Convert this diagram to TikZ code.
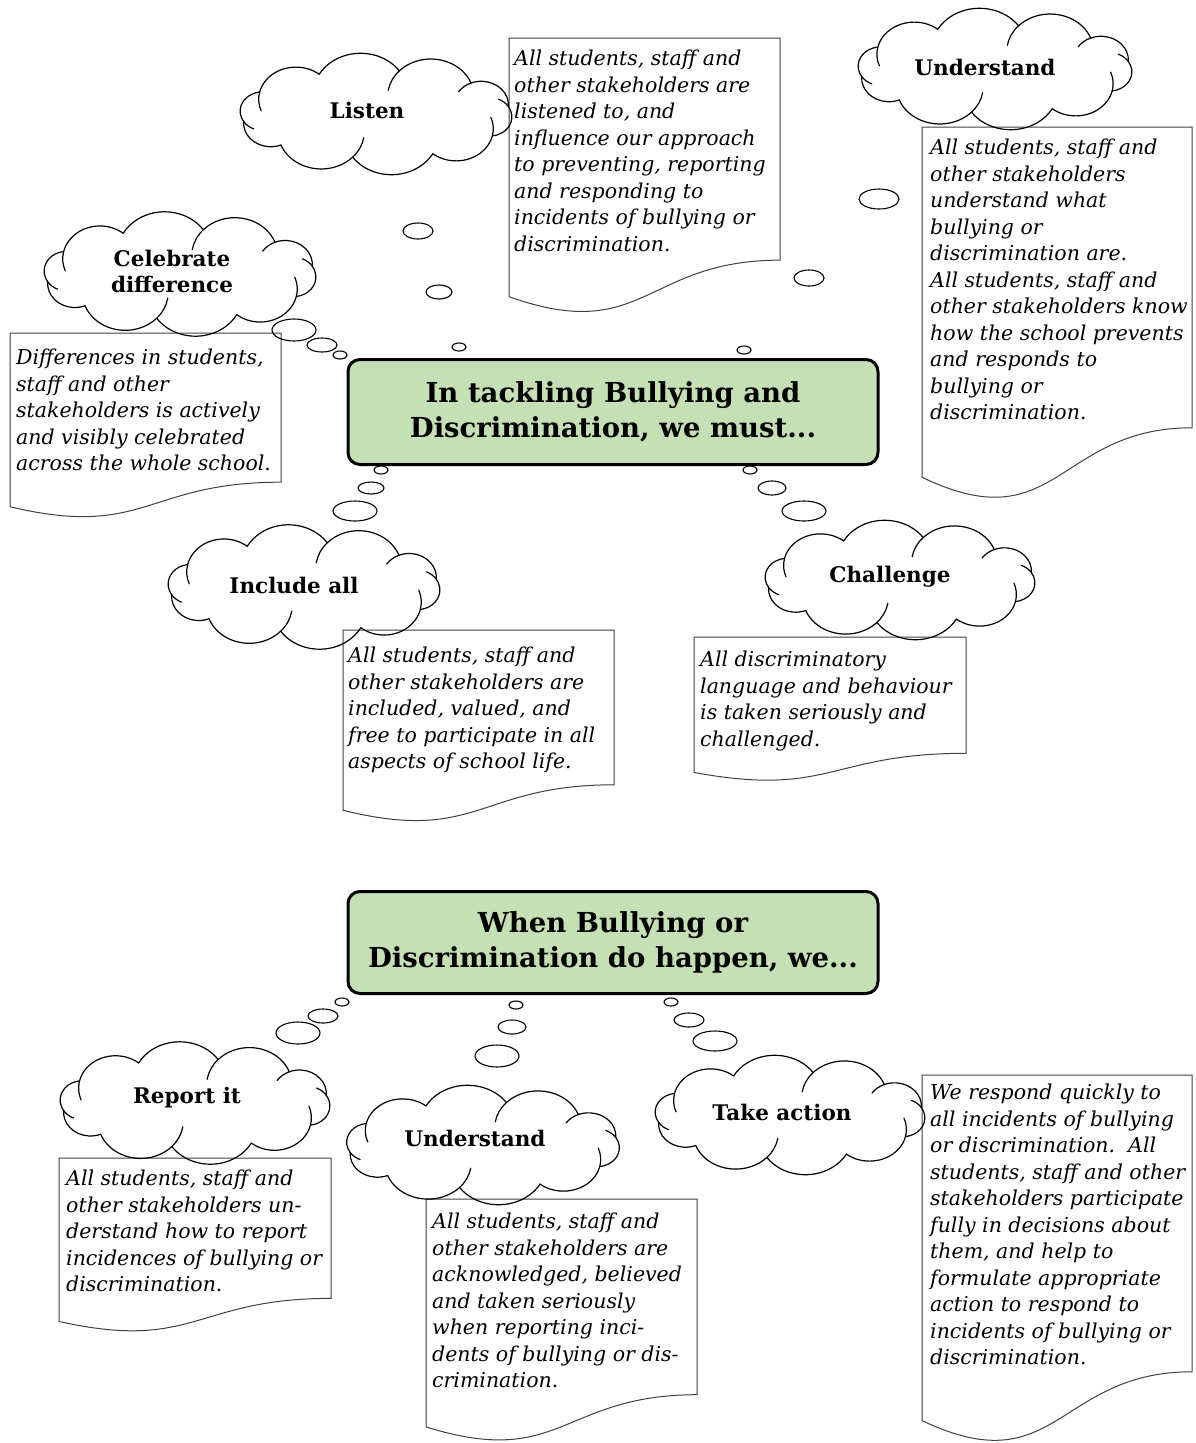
\documentclass[tikz,border=0pt]{standalone}
\usepackage{fontspec}
\setmainfont{DejaVu Serif}
\usetikzlibrary{shapes.geometric}
\definecolor{boxgreen}{HTML}{C5E0B4}
\newcommand\docshape[4]{%
  \draw[docline] (#1,#2) -- (#3,#2) -- (#3,{#2+0.802*#4})
    .. controls ({(#1+#3)/2},{#2+0.802*#4}) and ({(#1+#3)/2},{#2+1.1075*#4}) ..
    (#1,{#2+0.934*#4}) -- cycle;}
% word-like cloud: centre x, centre y, width, height
\newcommand\wcloud[4]{%
  \begin{scope}[shift={(#1,#2)}, x=1pt, y=1pt, xscale=#3/247, yscale=#4/128, line width=1.2pt, line cap=round]
    \foreach \a/\b/\k in {10/45/1, 45/80/1, 80/115/0, 115/150/1, 150/190/1, 190/225/0, 225/260/1, 260/295/0, 295/330/1, 330/370/1} {
      \pgfmathsetmacro\px{122*cos(\a)}
      \pgfmathsetmacro\py{46*sin(\a)}
      \pgfmathsetmacro\qx{122*cos(\b)}
      \pgfmathsetmacro\qy{46*sin(\b)}
      \pgfmathsetmacro\dir{atan2(\qy-\py,\qx-\px)}
      \pgfmathsetmacro\R{veclen(\qx-\px,\qy-\py)/1.696}
      \pgfmathsetmacro\sa{\dir-148}
      \pgfmathsetmacro\ea{\dir-32}
      \draw (\px,\py) arc[start angle=\sa, delta angle=116, radius=\R];
      \ifnum\k=1 \draw (\qx,\qy) arc[start angle=\ea, delta angle=34, radius=\R];\fi
    }
  \end{scope}}
\begin{document}
\begin{tikzpicture}[x=1pt,y=-1pt,
  bubble/.style={ellipse, draw=black, line width=1.1pt, inner sep=0pt},
  head/.style={font=\fontsize{21.5}{26}\selectfont\bfseries, align=center, inner sep=0pt},
  body/.style={font=\fontsize{20.5}{26.5}\selectfont\itshape, align=left, anchor=north west, inner sep=0pt},
  docline/.style={draw=black!75, line width=1pt},
  mainbox/.style={rounded corners=12pt, draw=black, line width=3pt, fill=boxgreen, minimum width=530pt, font=\fontsize{27.5}{35}\selectfont\bfseries, align=center}]
\useasboundingbox (0,0) rectangle (1195,1443);

% ---------- main boxes
\node[mainbox, minimum height=105pt] (main1) at (613,412) {In tackling Bullying and\\Discrimination, we must...};
\node[mainbox, minimum height=102pt] (main2) at (613,942.5) {When Bullying or\\Discrimination do happen, we...};

% ---------- document shapes
\docshape{509}{38}{780}{277}
\docshape{922}{127}{1192}{375}
\docshape{10}{333}{281}{186}
\docshape{343}{630}{614}{193}
\docshape{694}{637}{966}{145}
\docshape{59}{1158}{331}{175}
\docshape{426}{1199}{697}{244}
\docshape{922}{1075}{1192}{370}

% ---------- clouds
\coordinate (listen) at (376,114);
\coordinate (underT) at (995,69);
\coordinate (celeb) at (180,274);
\coordinate (incl) at (304,587);
\coordinate (chal) at (900,580);
\coordinate (report) at (195,1103);
\coordinate (underB) at (483,1145);
\coordinate (action) at (790,1115);
\wcloud{376}{114}{272}{122}
\wcloud{995}{69}{274}{122}
\wcloud{180}{274}{272}{125}
\wcloud{304}{587}{272}{125}
\wcloud{900}{580}{270}{120}
\wcloud{195}{1103}{270}{123}
\wcloud{483}{1145}{273}{120}
\wcloud{790}{1115}{270}{120}

\node[head] (listen-t) at (367,110) {Listen};
\node[head] (underT-t) at (985,67) {Understand};
\node[head] (celeb-t) at (172,271) {Celebrate\\difference};
\node[head] (incl-t) at (294,585) {Include all};
\node[head] (chal-t) at (890,577) {Challenge};
\node[head] (report-t) at (187,1098) {Report it};
\node[head] (underB-t) at (475,1138) {Understand};
\node[head] (action-t) at (782,1112) {Take action};

% ---------- bubbles
\foreach \n/\x/\y/\rx/\ry in {
  b1/418/231/15/8, b2/439/292/13/7, b3/459/347/7/4,
  b4/879/199/20/10, b5/809/278/15/8, b6/744/350/7/4,
  b7/294/330/22/11, b8/322/345/15/7, b9/340/355/7/4,
  b10/381/470/7/4, b11/371/488/13/6, b12/355/511/22/10,
  b13/750/470/7/4, b14/772/488/14/7, b15/804/511/22/10,
  b16/342/1002/7/4, b17/323/1016/15/7, b18/298/1033/22/11,
  b19/516/1005/7/4, b20/512/1027/14/7, b21/497/1056/22/11,
  b22/671/1002/7/4, b23/689/1020/15/7, b24/715/1041/22/10}
  \node[bubble, minimum width=2*\rx pt, minimum height=2*\ry pt] (\n) at (\x,\y) {};

% ---------- body texts
\node[body] (listen-d) at (514,47) {\strut All students, staff and\\other stakeholders are\\listened to, and\\influence our approach\\to preventing, reporting\\and responding to\\incidents of bullying or\\discrimination.};
\node[body] (underT-d) at (930,136) {\strut All students, staff and\\other stakeholders\\understand what\\bullying or\\discrimination are.\\All students, staff and\\other stakeholders know\\how the school prevents\\and responds to\\bullying or\\discrimination.};
\node[body] (celeb-d) at (16,346) {\strut Differences in students,\\staff and other\\stakeholders is actively\\and visibly celebrated\\across the whole school.};
\node[body] (incl-d) at (348,644) {\strut All students, staff and\\other stakeholders are\\included, valued, and\\free to participate in all\\aspects of school life.};
\node[body] (chal-d) at (700,648) {\strut All discriminatory\\language and behaviour\\is taken seriously and\\challenged.};
\node[body] (report-d) at (66,1167) {\strut All students, staff and\\other stakeholders un-\\derstand how to report\\incidences of bullying or\\discrimination.};
\node[body] (underB-d) at (432,1210) {\strut All students, staff and\\other stakeholders are\\acknowledged, believed\\and taken seriously\\when reporting inci-\\dents of bullying or dis-\\crimination.};
\node[body] (action-d) at (930,1081) {\strut We respond quickly to\\all incidents of bullying\\or discrimination.\ \ All\\students, staff and other\\stakeholders participate\\fully in decisions about\\them, and help to\\formulate appropriate\\action to respond to\\incidents of bullying or\\discrimination.};
\end{tikzpicture}
\end{document}
